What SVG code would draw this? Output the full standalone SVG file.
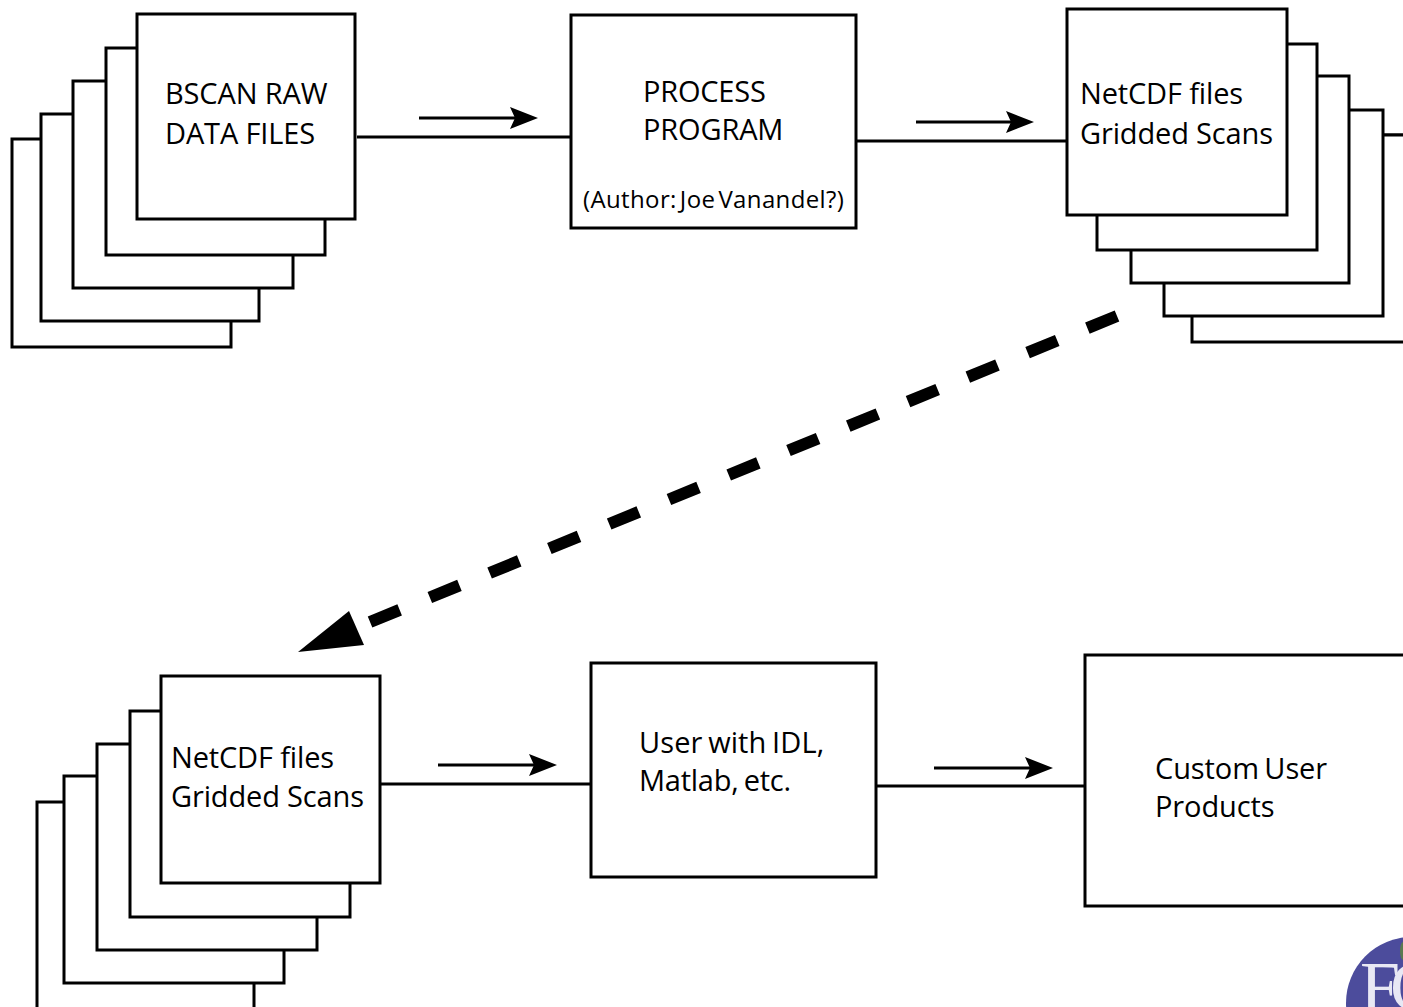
<svg xmlns="http://www.w3.org/2000/svg" width="1403" height="1007" viewBox="0 0 1403 1007">
<style>
.b{fill:#fff;stroke:#000;stroke-width:3}
.l{fill:none;stroke:#000;stroke-width:3}
.a{fill:none;stroke:#000;stroke-width:3;marker-end:url(#h)}
text{font-family:"Open Sans","Noto Sans","Liberation Sans",sans-serif;font-size:29px;fill:#000;letter-spacing:-0.15px}
.s{font-size:24px;letter-spacing:0.37px;word-spacing:-3.5px}
.c{letter-spacing:-0.1px;word-spacing:-2px}
</style>
<defs>
<marker id="h" markerUnits="userSpaceOnUse" markerWidth="32" markerHeight="28" refX="18" refY="14" orient="auto" overflow="visible">
<path d="M2 3 L30 14 L2 25 L7 14 Z" fill="#000"/>
</marker>
</defs>
<rect width="1403" height="1007" fill="#fff"/>
<g id="connectors">
<path class="l" d="M357 137H571M856 141H1067M1383 135H1403M380 784H591M876 786H1085"/>
<path class="a" d="M419 118H526"/>
<path class="a" d="M916 122H1022"/>
<path class="a" d="M438 765H545"/>
<path class="a" d="M934 768H1041"/>
<path d="M1117 316L370 622" fill="none" stroke="#000" stroke-width="12" stroke-dasharray="32 32.6"/>
<path d="M298 652L349 611L364 645Z" fill="#000"/>
</g>
<g id="raw-files">
<rect class="b" x="12" y="139" width="219" height="208"/>
<rect class="b" x="41" y="114" width="218" height="207"/>
<rect class="b" x="73" y="81" width="220" height="207"/>
<rect class="b" x="106" y="48" width="219" height="207"/>
<rect class="b" x="137" y="14" width="218" height="205"/>
<text x="165" y="104">BSCAN RAW</text>
<text x="165" y="144">DATA FILES</text>
</g>
<g id="process">
<rect class="b" x="571" y="15" width="285" height="213"/>
<text x="643" y="102" style="letter-spacing:-.2px">PROCESS</text>
<text x="643" y="140">PROGRAM</text>
<text class="s" x="583" y="208">(Author: Joe Vanandel?)</text>
</g>
<g id="netcdf-top">
<rect class="b" x="1192" y="135" width="230" height="207"/>
<rect class="b" x="1164" y="110" width="219" height="206"/>
<rect class="b" x="1131" y="76" width="218" height="207"/>
<rect class="b" x="1097" y="44" width="220" height="206"/>
<rect class="b" x="1067" y="9" width="220" height="206"/>
<text x="1080" y="104">NetCDF files</text>
<text x="1080" y="144">Gridded Scans</text>
</g>
<g id="netcdf-bottom">
<rect class="b" x="37" y="802" width="217" height="230"/>
<rect class="b" x="64" y="776" width="220" height="207"/>
<rect class="b" x="97" y="744" width="220" height="206"/>
<rect class="b" x="130" y="711" width="220" height="206"/>
<rect class="b" x="161" y="676" width="219" height="207"/>
<text x="171" y="768">NetCDF files</text>
<text x="171" y="807">Gridded Scans</text>
</g>
<g id="user">
<rect class="b" x="591" y="663" width="285" height="214"/>
<text class="c" x="639" y="753" style="letter-spacing:.1px">User with IDL,</text>
<text class="c" x="639" y="791" style="letter-spacing:-.25px">Matlab, etc.</text>
</g>
<g id="products">
<rect class="b" x="1085" y="655" width="340" height="251"/>
<text class="c" x="1155" y="779">Custom User</text>
<text class="c" x="1155" y="817">Products</text>
</g>
<g id="logo">
<circle cx="1412" cy="1003" r="66" fill="#4c4c9c"/>
<ellipse cx="1403" cy="951" rx="3" ry="9" fill="#5a7a50"/>
<text x="1360" y="1011" style="font-family:'Liberation Serif',serif;font-size:72px;fill:#e8e8f4;letter-spacing:-10px">FC</text>
</g>
</svg>
